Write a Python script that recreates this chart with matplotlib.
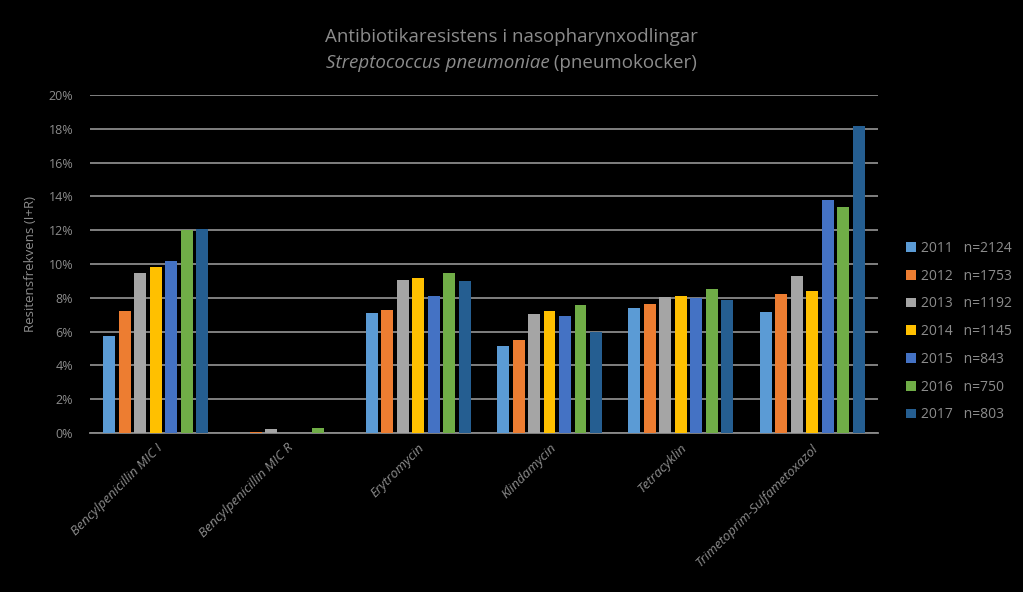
import numpy as np
import matplotlib.pyplot as plt

plt.rcParams.update({
    "font.family": ["Open Sans", "DejaVu Sans"],
    "text.color": "#8c8c8c",
})

# ---------------- Data ----------------
categories = ["Bencylpenicillin MIC I", "Bencylpenicillin MIC R", "Erytromycin",
              "Klindamycin", "Tetracyklin", "Trimetoprim-Sulfametoxazol"]
years = ["2011", "2012", "2013", "2014", "2015", "2016", "2017"]
n_counts = [2124, 1753, 1192, 1145, 843, 750, 803]

# resistance frequency (%) per year, one value per category
r2011 = [5.74, 0.0, 7.08, 5.17, 7.38, 7.14]
r2012 = [7.24, 0.05, 7.30, 5.49, 7.65, 8.20]
r2013 = [9.49, 0.24, 9.05, 7.04, 8.06, 9.30]
r2014 = [9.80, 0.0, 9.15, 7.24, 8.10, 8.38]
r2015 = [10.2, 0.0, 8.09, 6.90, 8.00, 13.8]
r2016 = [12.0, 0.28, 9.49, 7.59, 8.52, 13.35]
r2017 = [12.1, 0.0, 8.98, 5.98, 7.87, 18.17]
series = [r2011, r2012, r2013, r2014, r2015, r2016, r2017]

colors = ["#5B9BD5", "#ED7D31", "#A5A5A5", "#FFC000", "#4472C4", "#70AD47", "#255E91"]

# ---------------- Plot ----------------
fig = plt.figure(figsize=(10.23, 5.92), dpi=100, facecolor="black")
ax = fig.add_axes([0.088, 0.2686, 0.770, 0.5709], facecolor="black")

x = np.arange(len(categories))
bw = 0.091
step = 0.118
for i, (vals, c) in enumerate(zip(series, colors)):
    ax.bar(x + (i - 3) * step, vals, width=bw, color=c, zorder=3,
           label=f"{years[i]}   n={n_counts[i]}")

ax.set_xlim(-0.5, len(categories) - 0.5)
ax.set_ylim(0, 20)
ax.set_yticks(np.arange(0, 21, 2))
ax.set_yticklabels([f"{v}%" for v in range(0, 21, 2)])
ax.yaxis.grid(True, color="#8a8a8a", linewidth=1.3, zorder=0)
ax.set_axisbelow(True)
for s in ["top", "right", "left"]:
    ax.spines[s].set_visible(False)
ax.spines["bottom"].set_color("#8a8a8a")
ax.spines["bottom"].set_linewidth(1.3)
ax.tick_params(axis="y", length=0, pad=12, labelsize=9, labelcolor="#8c8c8c")
ax.tick_params(axis="x", length=0, pad=6, labelsize=9.5, labelcolor="#8c8c8c")

ax.set_xticks(x)
ax.set_xticklabels(categories, rotation=45, ha="right", va="top",
                   rotation_mode="anchor", style="italic")

ax.set_ylabel("Resitensfrekvens (I+R)", fontsize=9.5, color="#8c8c8c", labelpad=8)

fig.text(0.5, 0.938, "Antibiotikaresistens i nasopharynxodlingar",
         ha="center", va="center", fontsize=13.5, color="#8c8c8c")
t1 = fig.text(0.5, 0.893, "Streptococcus pneumoniae", ha="right", va="center",
              fontsize=13.5, color="#8c8c8c", style="italic")
t2 = fig.text(0.5, 0.893, " (pneumokocker)", ha="left", va="center",
              fontsize=13.5, color="#8c8c8c")
# center the two-part subtitle
fig.canvas.draw()
r = fig.canvas.get_renderer()
w1 = t1.get_window_extent(r).width
w2 = t2.get_window_extent(r).width
shift = (w1 - w2) / 2 / fig.bbox.width
t1.set_x(0.5 + shift)
t2.set_x(0.5 + shift)

ax.legend(loc="center left", bbox_to_anchor=(1.02, 0.30), frameon=False,
          fontsize=10, handlelength=0.7, handleheight=0.7,
          handletextpad=0.4, labelspacing=0.92, labelcolor="#8c8c8c")

fig.savefig("out.png", dpi=100, facecolor="black")
